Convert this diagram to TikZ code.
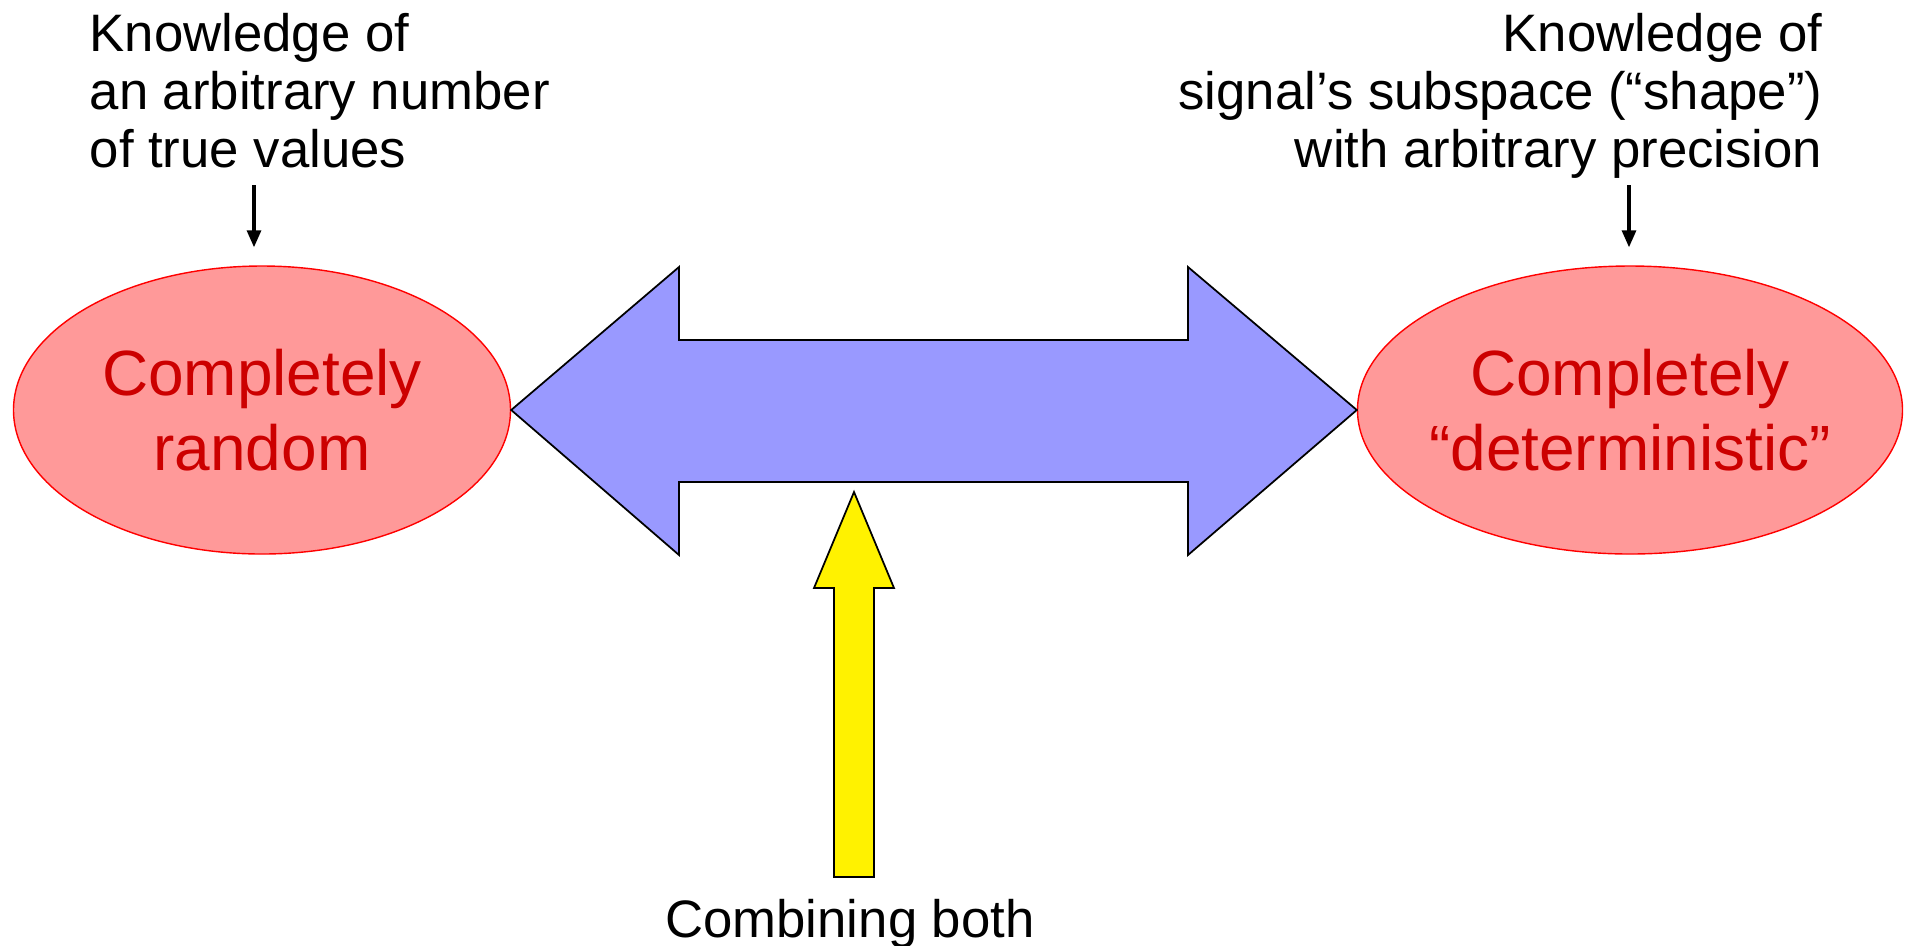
\documentclass[tikz,border=0pt]{standalone}
\usepackage{fontspec}
\setmainfont{Liberation Sans}
\usetikzlibrary{shapes.geometric,arrows.meta}
\definecolor{blobred}{RGB}{255,153,153}
\definecolor{darkred}{RGB}{204,0,0}
\definecolor{lilac}{RGB}{153,153,255}
\begin{document}
\begin{tikzpicture}[x=0.1mm, y=-0.1mm,
    blob/.style={ellipse, draw=red, fill=blobred, line width=0.4pt,
      inner xsep=-2mm, inner ysep=0pt, minimum height=28.8mm, text=darkred,
      align=center, font=\fontsize{18.2}{21.3}\selectfont},
    note/.style={inner sep=0pt, font=\fontsize{15}{16.4}\selectfont},
    pointer/.style={-{Triangle[length=1.7mm,width=1.4mm]}, line width=0.9pt,
      shorten >=1.8mm}]
  \useasboundingbox (0,0) rectangle (1909,945);

  \node[blob, minimum width=49.7mm] (rand) at (262,410) {Completely\\random};
  \node[blob, minimum width=54.5mm] (det) at (1630,410) {Completely\\``deterministic''};

  \node[note, anchor=north west, align=left] (known) at (89,13)
    {Knowledge of\\an arbitrary number\\of true values};
  \node[note, anchor=north east, align=right] (shape) at (1823,13)
    {Knowledge of\\signal's subspace (``shape'')\\with arbitrary precision};
  \node[note, anchor=base] (both) at (850,937) {Combining both};

  \coordinate (kin) at (254,185);
  \coordinate (sin) at (1629,185);
  \draw[pointer] (kin) -- (kin |- rand.north);
  \draw[pointer] (sin) -- (sin |- det.north);

  % two-headed block arrow between the extremes
  \draw[fill=lilac, line width=0.5pt] (rand.east) -- (679,267) -- (679,340)
    -- (1188,340) -- (1188,267) -- (det.west) -- (1188,555) -- (1188,482)
    -- (679,482) -- (679,555) -- cycle;

  % block arrow pointing up from the bottom label
  \draw[fill=yellow, line width=0.5pt] (854,492) -- (894,588) -- (874,588)
    -- (874,877) -- (834,877) -- (834,588) -- (814,588) -- cycle;
\end{tikzpicture}
\end{document}
